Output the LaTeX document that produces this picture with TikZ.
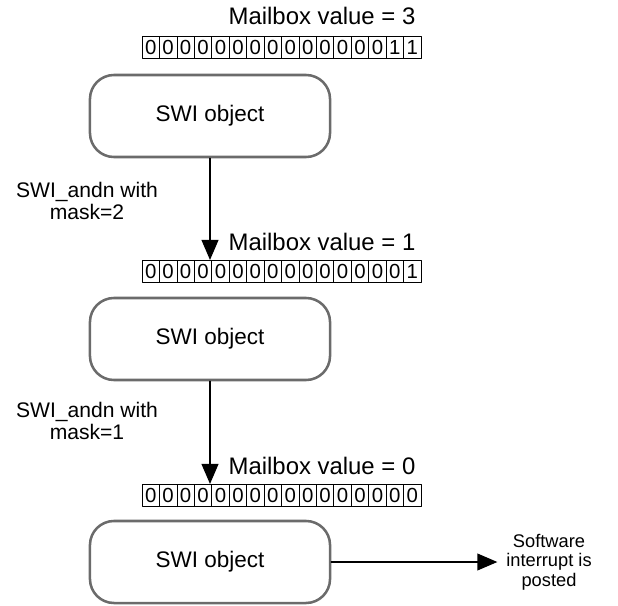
\documentclass[tikz,border=0pt]{standalone}
\usepackage{fontspec}
\setmainfont{Liberation Sans}
\usetikzlibrary{arrows.meta,positioning}
\begin{document}
\begin{tikzpicture}[x=0.025cm, y=-0.025cm, line join=round, line cap=round,
	swi/.style={draw=black!58, line width=1.8pt, rounded corners=0.6cm, minimum width=6cm, minimum height=2.05cm, font=\fontsize{16}{19}\selectfont},
	bit/.style={draw, line width=0.5pt, minimum width=0.436cm, minimum height=0.55cm, inner sep=0pt, outer sep=0pt, font=\fontsize{14.5}{16}\selectfont},
	mbox/.style={font=\fontsize{17}{20}\selectfont},
	lbl/.style={align=center, font=\fontsize{15}{15.5}\selectfont},
	post/.style={align=center, font=\fontsize{13}{14}\selectfont},
	flow/.style={-{Triangle[length=0.5cm, width=0.42cm]}, line width=1pt}]
	\useasboundingbox (0,0) rectangle (618,605);
	\def\cw{17.44} % Bit cell width
	% three mailbox states
	\node[mbox] (mb1) at (322,16) {Mailbox value = 3};
	\foreach \b [count=\i] in {0,0,0,0,0,0,0,0,0,0,0,0,0,0,1,1}
		\node[bit] (ra\i) at ({142+\cw*(\i-0.5)},47) {\b};
	\node[swi] (swi1) at (210,116) {SWI object};
	\node[lbl] (and1) at (87,201) {SWI\_andn with\\mask=2};
	\node[mbox] (mb2) at (322,242) {Mailbox value = 1};
	\foreach \b [count=\i] in {0,0,0,0,0,0,0,0,0,0,0,0,0,0,0,1}
		\node[bit] (rb\i) at ({142+\cw*(\i-0.5)},271) {\b};
	\node[swi] (swi2) at (210,339) {SWI object};
	\node[lbl] (and2) at (87,421) {SWI\_andn with\\mask=1};
	\node[mbox] (mb3) at (322,466) {Mailbox value = 0};
	\foreach \b [count=\i] in {0,0,0,0,0,0,0,0,0,0,0,0,0,0,0,0}
		\node[bit] (rc\i) at ({142+\cw*(\i-0.5)},495) {\b};
	\node[swi] (swi3) at (210,562) {SWI object};
	\node[post] (posted) at (549,562) {Software\\interrupt is\\posted};
	% connectors
	\draw[flow] (swi1.south) -- (swi1.south |- rb4.north);
	\draw[flow] (swi2.south) -- (swi2.south |- rc4.north);
	\draw[flow, shorten >=0.1cm] (swi3.east) -- (posted.west);
\end{tikzpicture}
\end{document}
